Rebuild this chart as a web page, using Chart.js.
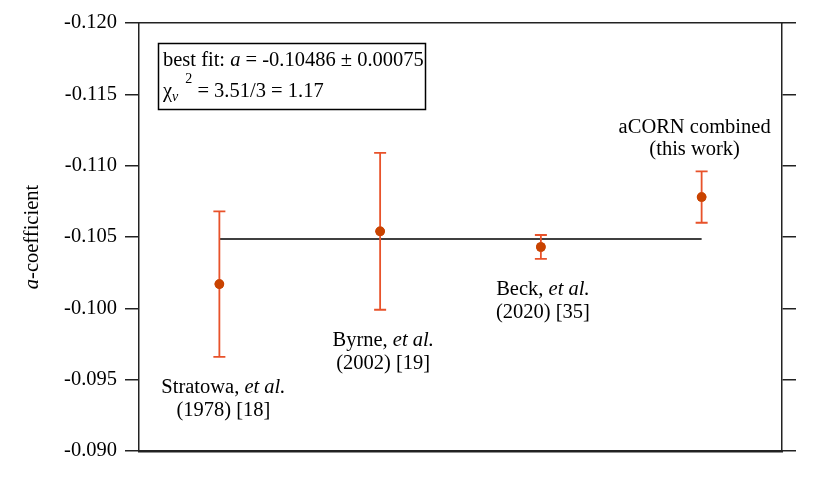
<!DOCTYPE html>
<html>
<head>
<meta charset="utf-8">
<script src="https://cdn.jsdelivr.net/npm/chart.js@4"></script>
<style>
  html, body { margin: 0; padding: 0; background: #fff; }
  canvas { display: block; }
</style>
</head>
<body>
<canvas id="aChart" width="830" height="481"></canvas>
<script>
// 데이터
const studyX = [1, 2, 3, 4];
const aValues = [-0.1017, -0.1054, -0.1043, -0.1078];
const aErrors = [0.0051, 0.0055, 0.00084, 0.0018];
const fitValue = -0.10486;
const fitRange = [1, 4];
const yTicks = [-0.120, -0.115, -0.110, -0.105, -0.100, -0.095, -0.090];

// 라벨 텍스트: [일반, 이탤릭] / 두번째 줄
const labelName = ['Stratowa, ', 'Byrne, ', 'Beck, ', 'aCORN combined'];
const labelItalic = ['et al.', 'et al.', 'et al.', ''];
const labelSub = ['(1978) [18]', '(2002) [19]', '(2020) [35]', '(this work)'];

const FONT = '"Liberation Serif", "Times New Roman", serif';
const markerColor = '#c94300';
const barColor = '#e8522a';

// 라벨 위치 (픽셀 오프셋)
const labelPos = [
    { dx: 4, below: true },
    { dx: 3, below: true },
    { dx: 2, below: true },
    { dx: -7, below: false }
];

// 여러 스타일이 섞인 텍스트 그리기
function drawParts(ctx, parts, x, y, align) {
    let total = 0;
    parts.forEach(p => { ctx.font = p.font; total += ctx.measureText(p.text).width + (p.dx || 0); });
    let cx = align === 'center' ? x - total / 2 : x;
    parts.forEach(p => {
        ctx.font = p.font;
        cx += p.dx || 0;
        ctx.fillText(p.text, cx, y + (p.dy || 0));
        cx += ctx.measureText(p.text).width;
    });
}

// 에러바
const errorBarPlugin = {
    id: 'errorBars',
    afterDatasetsDraw(chart) {
        const { ctx, scales: { x, y } } = chart;
        ctx.save();
        ctx.strokeStyle = barColor;
        ctx.lineWidth = 1.8;
        studyX.forEach((sx, i) => {
            const px = x.getPixelForValue(sx);
            const top = y.getPixelForValue(aValues[i] - aErrors[i]);
            const bot = y.getPixelForValue(aValues[i] + aErrors[i]);
            ctx.beginPath();
            ctx.moveTo(px, top); ctx.lineTo(px, bot);
            ctx.moveTo(px - 6, top); ctx.lineTo(px + 6, top);
            ctx.moveTo(px - 6, bot); ctx.lineTo(px + 6, bot);
            ctx.stroke();
        });
        // 마커 다시 그리기 (에러바 위)
        ctx.fillStyle = markerColor;
        studyX.forEach((sx, i) => {
            ctx.beginPath();
            ctx.arc(x.getPixelForValue(sx), y.getPixelForValue(aValues[i]), 4.8, 0, Math.PI * 2);
            ctx.fill();
        });
        ctx.restore();
    }
};

// 주석, 박스, 축 제목
const annotationPlugin = {
    id: 'annotations',
    afterDraw(chart) {
        const { ctx, scales: { x, y } } = chart;
        const reg = '20.5px ' + FONT;
        const ita = 'italic 20.5px ' + FONT;
        ctx.save();
        ctx.fillStyle = '#000';
        ctx.textBaseline = 'middle';
        ctx.textAlign = 'left';

        studyX.forEach((sx, i) => {
            const px = x.getPixelForValue(sx) + labelPos[i].dx;
            let y1, y2;
            if (labelPos[i].below) {
                const end = y.getPixelForValue(aValues[i] + aErrors[i]);
                y1 = end + 31; y2 = end + 54;
            } else {
                const end = y.getPixelForValue(aValues[i] - aErrors[i]);
                y1 = end - 44; y2 = end - 22;
            }
            const parts = [{ text: labelName[i], font: reg }];
            if (labelItalic[i]) parts.push({ text: labelItalic[i], font: ita });
            drawParts(ctx, parts, px, y1, 'center');
            drawParts(ctx, [{ text: labelSub[i], font: reg }], px, y2, 'center');
        });

        // best fit 박스
        ctx.strokeStyle = '#000';
        ctx.lineWidth = 1.5;
        ctx.strokeRect(158.5, 43.5, 267, 66);
        drawParts(ctx, [
            { text: 'best fit: ', font: reg },
            { text: 'a', font: ita },
            { text: ' = -0.10486 \u00b1 0.00075', font: reg }
        ], 163, 61, 'left');
        drawParts(ctx, [
            { text: '\u03c7', font: reg },
            { text: '\u03bd', font: 'italic 14px ' + FONT, dy: 5 },
            { text: '2', font: '14px ' + FONT, dy: -13, dx: 7 },
            { text: ' = 3.51/3 = 1.17', font: reg }
        ], 163, 92, 'left');

        // y축 제목
        ctx.translate(33, (chart.chartArea.top + chart.chartArea.bottom) / 2);
        ctx.rotate(-Math.PI / 2);
        drawParts(ctx, [
            { text: 'a', font: ita },
            { text: '-coefficient', font: reg }
        ], 0, 0, 'center');
        ctx.restore();
    }
};

const axisColor = '#222';

new Chart(document.getElementById('aChart'), {
    data: {
        datasets: [{
            type: 'line',
            data: [{ x: fitRange[0], y: fitValue }, { x: fitRange[1], y: fitValue }],
            borderColor: '#000',
            borderWidth: 1.5,
            pointRadius: 0,
            order: 2
        }, {
            type: 'scatter',
            data: studyX.map((sx, i) => ({ x: sx, y: aValues[i] })),
            backgroundColor: markerColor,
            pointRadius: 4.8,
            borderWidth: 0,
            order: 1
        }]
    },
    options: {
        responsive: false,
        animation: false,
        layout: { padding: 0 },
        plugins: {
            legend: { display: false },
            tooltip: { enabled: false }
        },
        scales: {
            x: {
                type: 'linear',
                position: 'bottom',
                min: 0.5,
                max: 4.5,
                ticks: { display: false },
                grid: { display: false },
                border: { display: true, color: axisColor, width: 2.5 },
                afterFit: s => { s.height = 30; }
            },
            x2: {
                type: 'linear',
                position: 'top',
                min: 0.5,
                max: 4.5,
                ticks: { display: false },
                grid: { display: false },
                border: { display: true, color: axisColor, width: 1.5 },
                afterFit: s => { s.height = 23; }
            },
            y: {
                type: 'linear',
                position: 'left',
                reverse: true,
                min: yTicks[0],
                max: yTicks[yTicks.length - 1],
                afterBuildTicks: s => { s.ticks = yTicks.map(v => ({ value: v })); },
                ticks: {
                    padding: 8,
                    color: '#000',
                    font: { family: FONT, size: 20.5 },
                    callback: v => v.toFixed(3)
                },
                grid: { drawOnChartArea: false, drawTicks: true, tickLength: 14, color: axisColor, lineWidth: 1.5 },
                border: { display: true, color: axisColor, width: 1.5 },
                afterFit: s => { s.width = 139; }
            },
            y2: {
                type: 'linear',
                position: 'right',
                reverse: true,
                min: yTicks[0],
                max: yTicks[yTicks.length - 1],
                afterBuildTicks: s => { s.ticks = yTicks.map(v => ({ value: v })); },
                ticks: { display: false },
                grid: { drawOnChartArea: false, drawTicks: true, tickLength: 14, color: axisColor, lineWidth: 1.5 },
                border: { display: true, color: axisColor, width: 1.5 },
                afterFit: s => { s.width = 48; }
            }
        }
    },
    plugins: [errorBarPlugin, annotationPlugin]
});
</script>
</body>
</html>
